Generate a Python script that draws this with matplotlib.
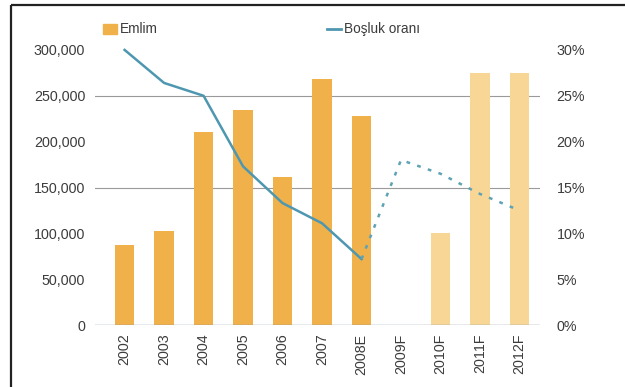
import matplotlib

matplotlib.use("Agg")
import matplotlib.pyplot as plt
from matplotlib.lines import Line2D

# Emilim (absorption) per year and vacancy rate, history plus forecast
years = ["2002", "2003", "2004", "2005", "2006", "2007", "2008E",
         "2009F", "2010F", "2011F", "2012F"]
emilim = [87000, 102500, 211000, 235000, 161000, 268000, 228000,
          0, 100000, 274500, 274500]
forecast = [False] * 7 + [True] * 4

vacancy_actual = [30.0, 26.4, 25.0, 17.3, 13.3, 11.1, 7.2]   # 2002 .. 2008E
vacancy_forecast = [7.2, 18.0, 16.5, 14.3, 12.5]              # 2008E .. 2012F

left_ticks = [0, 50000, 100000, 150000, 200000, 250000, 300000]
right_ticks = [0, 5, 10, 15, 20, 25, 30]

BAR = "#f0b14a"
BAR_LIGHT = "#f8d796"
LINE = "#4e97b0"
TXT = "#3c3c3c"

plt.rcParams["font.family"] = ["Liberation Sans", "DejaVu Sans"]

fig = plt.figure(figsize=(6.25, 3.87), dpi=100)
ax = fig.add_axes([0.152, 0.160, 0.712, 0.711])
ax2 = ax.twinx()

x = list(range(len(years)))
colors = [BAR_LIGHT if f else BAR for f in forecast]
ax.bar(x, emilim, width=0.5, color=colors, zorder=2)

# only two reference lines plus the zero line
for yv in (150000, 250000):
    ax.axhline(yv, color="#9a9a9a", linewidth=0.8, zorder=1)
ax.axhline(0, color="#8696a4", linewidth=1.0, zorder=3)

ax.set_ylim(0, 300000)
ax.set_xlim(-0.75, 10.52)
ax.set_yticks(left_ticks)
ax.set_yticklabels([f"{v:,}" for v in left_ticks])
ax.set_xticks(x)
ax.set_xticklabels(years, rotation=90)
ax.tick_params(axis="both", length=0, labelsize=10.3, colors=TXT)
ax.tick_params(axis="y", pad=7)
ax.tick_params(axis="x", pad=6)

ax2.plot(x[:7], vacancy_actual, color=LINE, linewidth=1.8, zorder=4,
         clip_on=False)
ax2.plot(x[6:], vacancy_forecast, color="#5ea2b4", linewidth=1.8,
         linestyle=(0, (1.5, 3.0)), zorder=4)
ax2.set_ylim(0, 30)
ax2.set_yticks(right_ticks)
ax2.set_yticklabels([f"{v}%" for v in right_ticks])
ax2.tick_params(axis="y", length=0, labelsize=10.3, colors=TXT, pad=12)

for a in (ax, ax2):
    for s in a.spines.values():
        s.set_visible(False)

# legend drawn by hand in figure pixels
fig.patches.append(plt.Rectangle((103 / 625, 1 - 34 / 387), 14 / 625, 10 / 387,
                                 transform=fig.transFigure, color=BAR))
fig.text(120 / 625, 1 - 29 / 387, "Emlim", fontsize=9.8, color=TXT, va="center")
fig.lines.append(Line2D([327 / 625, 341 / 625], [1 - 29 / 387] * 2,
                        transform=fig.transFigure, color=LINE, linewidth=2))
fig.text(344 / 625, 1 - 29 / 387, "Boşluk oranı", fontsize=9.8, color=TXT,
         va="center")

# frame along top and left edge
fig.lines.append(Line2D([11 / 625, 1.0], [1 - 5 / 387] * 2,
                        transform=fig.transFigure, color="#222222", linewidth=1.6,
                        solid_capstyle="butt"))
fig.lines.append(Line2D([11 / 625] * 2, [0.0, 1 - 5 / 387],
                        transform=fig.transFigure, color="#222222", linewidth=1.6,
                        solid_capstyle="butt"))

fig.savefig("out.png", dpi=100)
